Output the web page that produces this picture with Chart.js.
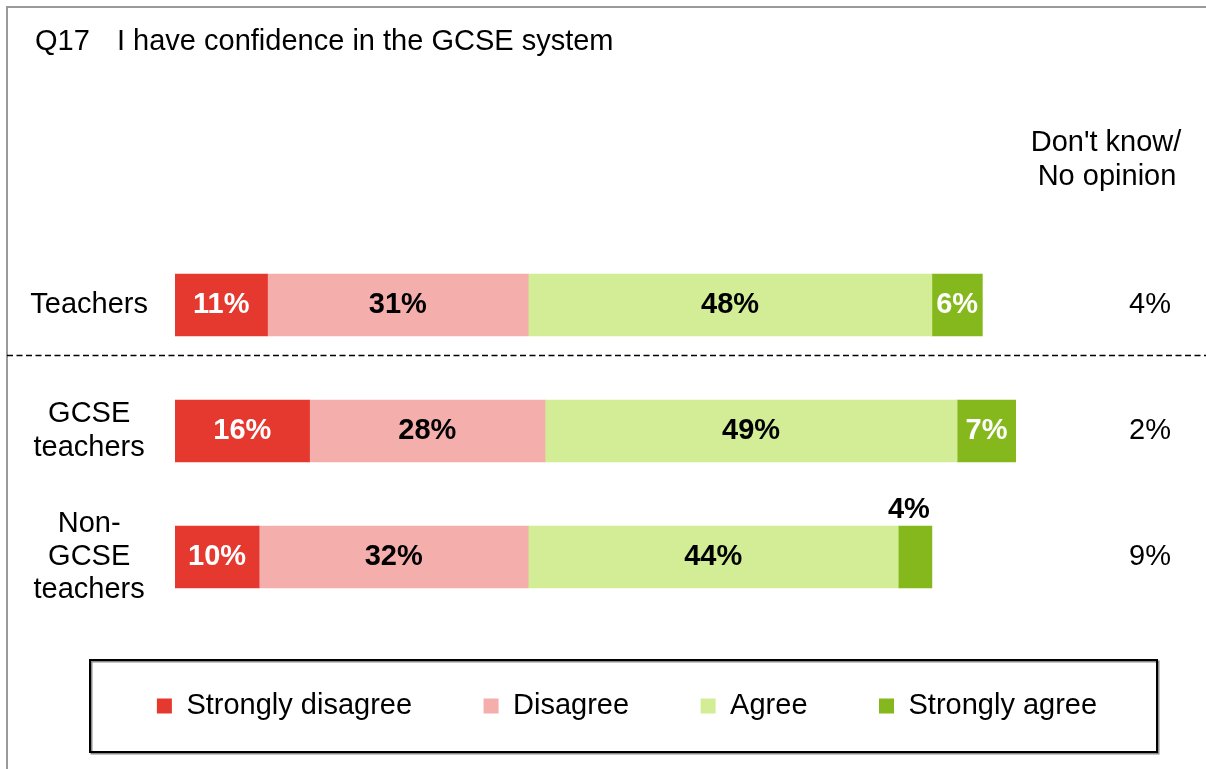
<!DOCTYPE html>
<html>
<head>
<meta charset="utf-8">
<title>Q17 confidence in the GCSE system</title>
<script src="https://cdn.jsdelivr.net/npm/chart.js@4.4.1/dist/chart.umd.min.js"></script>
<style>
  html, body { margin: 0; padding: 0; background: #fff; overflow: hidden; }
  #wrap { width: 1206px; height: 769px; overflow: hidden; }
</style>
</head>
<body>
<div id="wrap"><canvas id="chart" width="1254" height="769"></canvas></div>
<script>
// Survey groups and answer shares (%)
const groups = ['Teachers', ['GCSE', 'teachers'], ['Non-', 'GCSE', 'teachers']];
const stronglyDisagree = [11, 16, 10];
const disagree = [31, 28, 32];
const agree = [48, 49, 44];
const stronglyAgree = [6, 7, 4];
const dontKnow = [4, 2, 9];

const FONT = '"Liberation Sans", Arial, sans-serif';
Chart.defaults.font.family = FONT;
Chart.defaults.color = '#000';

// Title, "don't know" header, dashed separator and frames
const decorations = {
  id: 'decorations',
  beforeDraw(chart) {
    const ctx = chart.ctx;
    ctx.save();
    ctx.strokeStyle = '#9a9a9a';
    ctx.lineWidth = 2;
    ctx.strokeRect(7, 7, 1400, 1000);

    ctx.fillStyle = '#000';
    ctx.font = '29px ' + FONT;
    ctx.textBaseline = 'alphabetic';
    ctx.textAlign = 'left';
    ctx.fillText('Q17', 35, 50);
    ctx.fillText('I have confidence in the GCSE system', 117, 50);

    ctx.textAlign = 'center';
    ctx.fillText("Don't know/", 1106, 151);
    ctx.fillText('No opinion', 1107, 185);

    // separator between all teachers and the two subgroups
    const sy = chart.scales.y.getPixelForValue(0.4);
    ctx.strokeStyle = '#000';
    ctx.lineWidth = 1.5;
    ctx.setLineDash([6, 3.5]);
    ctx.beginPath();
    ctx.moveTo(7, sy);
    ctx.lineTo(1254, sy);
    ctx.stroke();
    ctx.setLineDash([]);

    // box round the legend
    ctx.strokeStyle = '#8a8a8a';
    ctx.lineWidth = 2;
    ctx.strokeRect(91.5, 661.5, 1067, 92);
    ctx.strokeStyle = '#000';
    ctx.strokeRect(90, 660, 1067, 92);
    ctx.restore();
  }
};

// Percent labels on each bar segment
const barLabels = {
  id: 'barLabels',
  afterDatasetsDraw(chart) {
    const ctx = chart.ctx;
    ctx.save();
    ctx.font = 'bold 29px ' + FONT;
    chart.data.datasets.forEach((ds, i) => {
      chart.getDatasetMeta(i).data.forEach((bar, j) => {
        const text = ds.data[j] + '%';
        const w = bar.x - bar.base;
        if (w < 40) {
          // too narrow, put it above the bar
          ctx.fillStyle = '#000';
          ctx.textAlign = 'right';
          ctx.textBaseline = 'alphabetic';
          ctx.fillText(text, bar.x - 2, bar.y - bar.height / 2 - 8);
        } else {
          ctx.fillStyle = ds.labelColor;
          ctx.textAlign = 'center';
          ctx.textBaseline = 'middle';
          ctx.fillText(text, (bar.x + bar.base) / 2, bar.y);
        }
      });
    });
    ctx.restore();
  }
};

const ctx = document.getElementById('chart').getContext('2d');
new Chart(ctx, {
  type: 'bar',
  data: {
    labels: groups,
    datasets: [
      { label: 'Strongly disagree', data: stronglyDisagree, backgroundColor: '#E5382E', labelColor: '#fff' },
      { label: 'Disagree', data: disagree, backgroundColor: '#F4AEAC', labelColor: '#000' },
      { label: 'Agree', data: agree, backgroundColor: '#D3ED96', labelColor: '#000' },
      { label: 'Strongly agree', data: stronglyAgree, backgroundColor: '#85B81C', labelColor: '#fff' }
    ]
  },
  options: {
    indexAxis: 'y',
    responsive: false,
    animation: false,
    barThickness: 62,
    layout: { padding: { top: 242, left: 0, right: 0, bottom: 38.5 } },
    scales: {
      x: { stacked: true, min: 0, max: 100, display: false },
      y: {
        stacked: true,
        grid: { display: false, drawTicks: false },
        border: { display: false },
        ticks: { color: '#000', font: { size: 29, lineHeight: 1.15 }, crossAlign: 'center', padding: 27 },
        afterFit(scale) { scale.width = 175; }
      },
      y2: {
        type: 'category',
        position: 'right',
        labels: dontKnow.map(v => v + '%'),
        offset: true,
        grid: { display: false, drawTicks: false },
        border: { display: false },
        ticks: { color: '#000', font: { size: 29 }, crossAlign: 'center', padding: 113 },
        afterFit(scale) { scale.width = 238; }
      }
    },
    plugins: {
      tooltip: { enabled: false },
      legend: {
        position: 'bottom',
        labels: { boxWidth: 15, boxHeight: 15, padding: 71.5, color: '#000', font: { size: 29 } }
      }
    }
  },
  plugins: [decorations, barLabels]
});
</script>
</body>
</html>
